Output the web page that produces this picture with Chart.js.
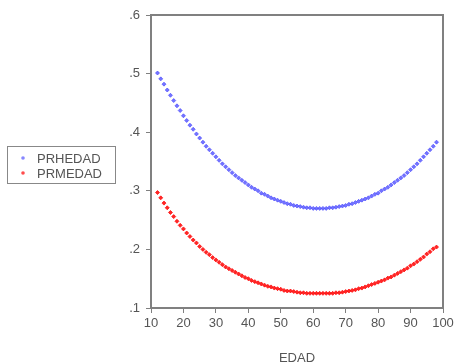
<!DOCTYPE html>
<html>
<head>
<meta charset="utf-8">
<script src="https://cdn.jsdelivr.net/npm/chart.js@4.4.0/dist/chart.umd.min.js"></script>
<style>
    html, body { margin: 0; padding: 0; background: #fff; }
    #wrap { width: 458px; height: 362px; }
</style>
</head>
<body>
<div id="wrap"><canvas id="edadChart" width="458" height="362"></canvas></div>
<script>
const edad = [12, 13, 14, 15, 16, 17, 18, 19, 20, 21, 22, 23, 24, 25, 26, 27, 28, 29, 30,
    31, 32, 33, 34, 35, 36, 37, 38, 39, 40, 41, 42, 43, 44, 45, 46, 47, 48, 49, 50,
    51, 52, 53, 54, 55, 56, 57, 58, 59, 60, 61, 62, 63, 64, 65, 66, 67, 68, 69, 70,
    71, 72, 73, 74, 75, 76, 77, 78, 79, 80, 81, 82, 83, 84, 85, 86, 87, 88, 89, 90,
    91, 92, 93, 94, 95, 96, 97, 98];

const prhedad = [.501, .491, .482, .472, .463, .454, .445, .437, .428, .420, .412, .405, .397, .390, .383, .376, .370, .364, .358,
    .352, .346, .341, .336, .331, .326, .322, .318, .314, .310, .306, .303, .300, .296, .294, .291, .288, .286, .284, .282,
    .280, .278, .277, .275, .274, .273, .272, .271, .271, .270, .270, .270, .270, .270, .271, .271, .272, .273, .274, .275,
    .277, .278, .280, .282, .284, .286, .288, .291, .294, .296, .300, .303, .306, .310, .314, .318, .322, .326, .331, .336,
    .341, .346, .352, .358, .364, .370, .376, .383];

const prmedad = [.297, .288, .279, .271, .263, .256, .248, .241, .235, .228, .222, .216, .211, .205, .200, .195, .191, .186, .182,
    .178, .174, .170, .167, .164, .161, .158, .155, .152, .150, .147, .145, .143, .141, .139, .137, .136, .134, .133, .132,
    .130, .129, .129, .128, .127, .126, .126, .125, .125, .125, .125, .125, .125, .125, .125, .125, .126, .126, .127, .128,
    .129, .130, .131, .133, .134, .136, .138, .140, .142, .144, .146, .148, .151, .153, .156, .159, .162, .165, .168, .172,
    .175, .179, .183, .187, .192, .196, .201, .204];

const yTicks = ['.1', '.2', '.3', '.4', '.5', '.6'];

const FONT = '"Liberation Sans", Arial, sans-serif';

function toPoints(xs, ys) {
    return xs.map((x, i) => ({ x: x, y: ys[i] }));
}

// marco del gráfico (arriba y derecha)
const framePlugin = {
    id: 'frame',
    afterDraw(chart) {
        const { ctx, chartArea } = chart;
        ctx.save();
        ctx.strokeStyle = '#808080';
        ctx.lineWidth = 2;
        ctx.beginPath();
        ctx.moveTo(chartArea.left, chartArea.top);
        ctx.lineTo(chartArea.right, chartArea.top);
        ctx.lineTo(chartArea.right, chartArea.bottom);
        ctx.stroke();
        ctx.restore();
    }
};

// leyenda en recuadro a la izquierda
const boxLegend = {
    id: 'boxLegend',
    afterDraw(chart) {
        const ctx = chart.ctx;
        ctx.save();
        ctx.strokeStyle = '#888';
        ctx.lineWidth = 1;
        ctx.strokeRect(7.5, 146.5, 108, 37);
        ctx.font = '13px ' + FONT;
        ctx.textBaseline = 'middle';
        chart.data.datasets.forEach((ds, i) => {
            const y = 158 + i * 15;
            ctx.fillStyle = ds.borderColor;
            ctx.beginPath();
            ctx.arc(23, y, 1.8, 0, Math.PI * 2);
            ctx.fill();
            ctx.fillStyle = '#555';
            ctx.fillText(ds.label, 37, y + 1);
        });
        ctx.restore();
    }
};

const ctx = document.getElementById('edadChart').getContext('2d');
const chart = new Chart(ctx, {
    type: 'scatter',
    data: {
        datasets: [
            {
                label: 'PRHEDAD',
                data: toPoints(edad, prhedad),
                backgroundColor: 'rgba(70, 70, 255, 0.75)',
                borderColor: 'rgba(70, 70, 255, 0.65)',
                borderWidth: 1,
                pointRadius: 2,
                pointStyle: 'rectRot'
            },
            {
                label: 'PRMEDAD',
                data: toPoints(edad, prmedad),
                backgroundColor: 'rgba(255, 0, 0, 0.85)',
                borderColor: 'rgba(255, 0, 0, 0.7)',
                borderWidth: 1,
                pointRadius: 2,
                pointStyle: 'rectRot'
            }
        ]
    },
    options: {
        responsive: false,
        animation: false,
        layout: { padding: { top: 15, right: 15, left: 0, bottom: 0 } },
        plugins: {
            legend: { display: false },
            tooltip: { enabled: false }
        },
        scales: {
            x: {
                type: 'linear',
                min: 10,
                max: 100,
                afterFit: s => { s.height = 54; },
                ticks: {
                    stepSize: 10,
                    color: '#555',
                    padding: 3,
                    maxRotation: 0,
                    font: { family: FONT, size: 13 }
                },
                grid: { drawOnChartArea: false, tickLength: 5, color: '#808080', lineWidth: 1 },
                border: { color: '#808080', width: 2 },
                title: {
                    display: true,
                    text: 'EDAD',
                    color: '#555',
                    font: { family: FONT, size: 13 },
                    padding: { top: 0, bottom: -4 }
                }
            },
            y: {
                min: 0.1,
                max: 0.6,
                afterFit: s => { s.width = 151; },
                afterBuildTicks: s => {
                    s.ticks = yTicks.map(t => ({ value: parseFloat('0' + t) }));
                },
                ticks: {
                    color: '#555',
                    padding: 6,
                    callback: (v) => yTicks[Math.round(v * 10) - 1],
                    font: { family: FONT, size: 13 }
                },
                grid: { drawOnChartArea: false, tickLength: 5, color: '#808080', lineWidth: 1 },
                border: { color: '#808080', width: 2 }
            }
        }
    },
    plugins: [framePlugin, boxLegend]
});
</script>
</body>
</html>
